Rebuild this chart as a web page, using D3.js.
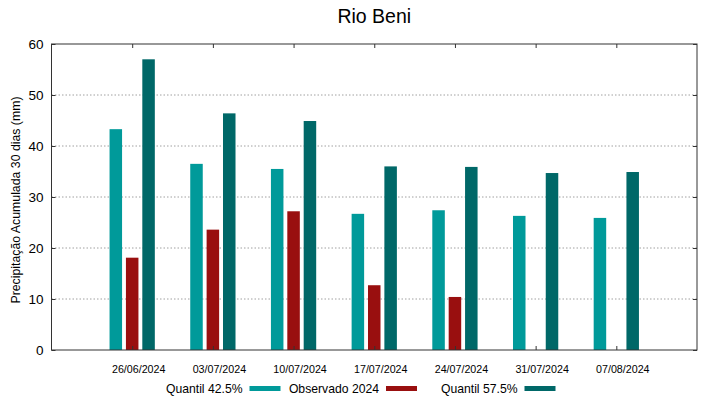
<!DOCTYPE html>
<html>
<head>
<meta charset="utf-8">
<script src="https://cdn.jsdelivr.net/npm/d3@7"></script>
<style>
  body { margin: 0; background: #fff; }
  svg { font-family: "Liberation Sans", Arial, sans-serif; }
</style>
</head>
<body>
<svg id="chart" width="719" height="399"></svg>
<script>
// values
var dates = ["26/06/2024", "03/07/2024", "10/07/2024", "17/07/2024", "24/07/2024", "31/07/2024", "07/08/2024"];
var quantil425 = [43.3, 36.5, 35.5, 26.7, 27.4, 26.3, 25.9];
var observado = [18.1, 23.6, 27.2, 12.7, 10.4, null, null];
var quantil575 = [57.0, 46.4, 44.9, 36.0, 35.9, 34.7, 34.9];
var yTicks = [0, 10, 20, 30, 40, 50, 60];

var series = [
    {name: "Quantil 42.5%", values: quantil425, color: "#009a9a", offset: -1},
    {name: "Observado 2024", values: observado, color: "#990f0f", offset: 0},
    {name: "Quantil 57.5%", values: quantil575, color: "#006868", offset: 1}
];

var svg = d3.select("#chart");
var margin = {top: 44, right: 22, bottom: 49, left: 51.5};
var width = 719 - margin.left - margin.right;
var height = 399 - margin.top - margin.bottom;

var g = svg.append("g").attr("transform", "translate(" + margin.left + "," + margin.top + ")");

var x = d3.scaleLinear().domain([-1, dates.length]).range([0, width]);
var y = d3.scaleLinear().domain([0, 60]).range([height, 0]);

var step = x(1) - x(0);
var barW = step * 0.155;
var barGap = step * 0.203;

// dotted grid
g.selectAll("line.grid")
    .data(yTicks.filter(function(d){ return d > 0 && d < 60; }))
    .enter().append("line")
    .attr("class", "grid")
    .attr("x1", 0).attr("x2", width)
    .attr("y1", function(d){ return y(d); })
    .attr("y2", function(d){ return y(d); })
    .style("stroke", "#a0a0a0")
    .style("stroke-width", 1)
    .style("stroke-dasharray", "1.5,2");

// bars
series.forEach(function(s){
    g.selectAll("rect.s" + s.offset)
        .data(s.values.map(function(v, i){ return {i: i, v: v}; }).filter(function(d){ return d.v != null; }))
        .enter().append("rect")
        .attr("x", function(d){ return x(d.i) + s.offset * barGap - barW / 2; })
        .attr("y", function(d){ return y(d.v); })
        .attr("width", barW)
        .attr("height", function(d){ return y(0) - y(d.v); })
        .style("fill", s.color);
});

// axes, gnuplot style: ticks inward on all sides
var idx = d3.range(dates.length);
g.append("g")
    .attr("transform", "translate(0," + height + ")")
    .call(d3.axisBottom(x).tickValues(idx).tickSize(-4).tickPadding(15)
        .tickFormat(function(d){ return dates[d]; }))
    .call(function(a){
        a.select(".domain").remove();
        a.selectAll("text").style("font-size", "10.7px").attr("fill", "#000").attr("dx", 6);
    });
g.append("g")
    .call(d3.axisTop(x).tickValues(idx).tickSize(-4).tickFormat(""))
    .call(function(a){ a.select(".domain").remove(); });
g.append("g")
    .call(d3.axisLeft(y).tickValues(yTicks).tickSize(-4).tickPadding(8))
    .call(function(a){ a.select(".domain").remove(); a.selectAll("text").style("font-size", "13.5px").attr("fill", "#000"); });
g.append("g")
    .attr("transform", "translate(" + width + ",0)")
    .call(d3.axisRight(y).tickValues(yTicks).tickSize(-4).tickFormat(""))
    .call(function(a){ a.select(".domain").remove(); });
g.selectAll(".tick line").style("stroke", "#333");

g.append("rect")
    .attr("width", width).attr("height", height)
    .style("fill", "none").style("stroke", "#333").style("stroke-width", 1);

// title and axis label
svg.append("text")
    .attr("x", margin.left + width / 2).attr("y", 22.5)
    .attr("text-anchor", "middle")
    .style("font-size", "19.5px")
    .text("Rio Beni");

svg.append("text")
    .attr("transform", "translate(20," + (margin.top + height / 2 + 3) + ") rotate(-90)")
    .attr("text-anchor", "middle")
    .style("font-size", "12.3px")
    .text("Precipitação Acumulada 30 dias (mm)");

// legend
var legendX = [242.5, 379, 517.5];
var leg = svg.selectAll("g.legend").data(series).enter().append("g").attr("class", "legend");
leg.append("text")
    .attr("x", function(d, i){ return legendX[i]; })
    .attr("y", 392.5)
    .attr("text-anchor", "end")
    .style("font-size", "12.2px")
    .text(function(d){ return d.name; });
leg.append("rect")
    .attr("x", function(d, i){ return legendX[i] + 7; })
    .attr("y", 386)
    .attr("width", 31).attr("height", 5)
    .style("fill", function(d){ return d.color; });
</script>
</body>
</html>
